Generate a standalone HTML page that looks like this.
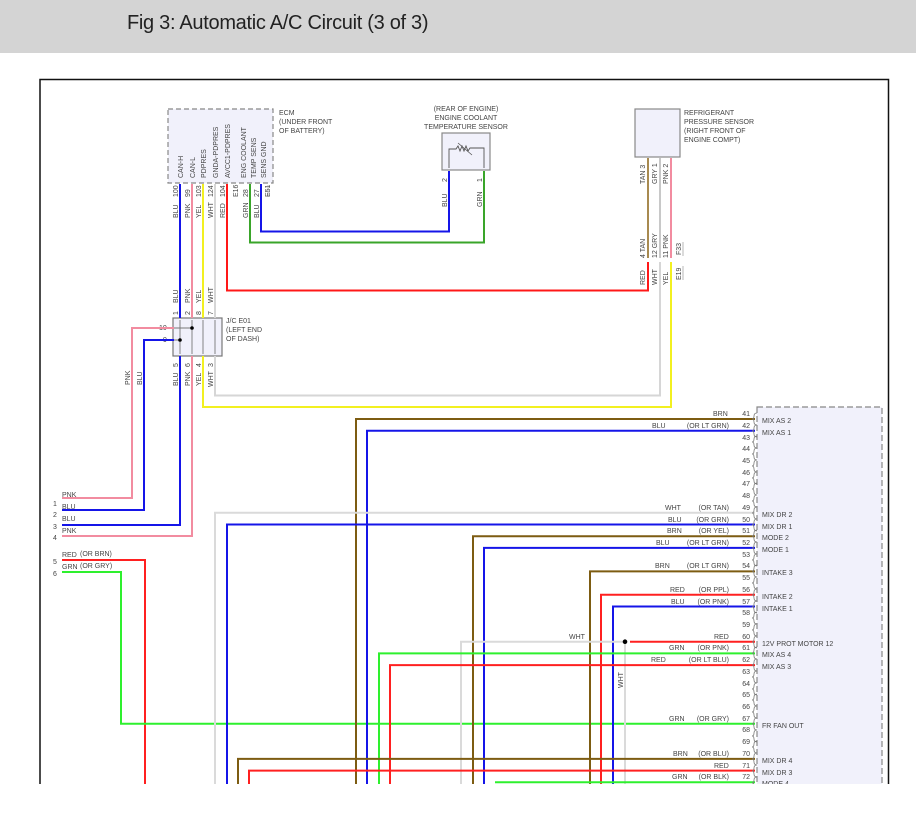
<!DOCTYPE html>
<html><head><meta charset="utf-8"><style>
html,body{margin:0;padding:0;background:#fff;width:916px;height:823px;overflow:hidden}
.hdr{position:absolute;left:0;top:0;width:916px;height:53px;background:#d4d4d4}
.hdr span{position:absolute;left:127px;top:12px;font-family:"Liberation Sans Narrow","Liberation Sans",sans-serif;font-size:20px;color:#222;letter-spacing:-0.3px}
svg{position:absolute;left:0;top:0}
text{font-family:"Liberation Sans",sans-serif;font-size:7px;fill:#444}
</style></head><body>
<div class="hdr"><span>Fig 3: Automatic A/C Circuit (3 of 3)</span></div>
<svg width="916" height="823" viewBox="0 0 916 823">
<defs><clipPath id="c"><rect x="0" y="0" width="916" height="784"/></clipPath></defs>
<g clip-path="url(#c)">
<path d="M40,800 V79.5 H888.5 V800" fill="none" stroke="#111" stroke-width="1.5"/>

<rect x="168" y="109" width="105" height="74" fill="#f1f1fb" stroke="#888" stroke-dasharray="5,3" stroke-width="1.2"/>
<text x="279" y="115">ECM</text><text x="279" y="124">(UNDER FRONT</text><text x="279" y="133">OF BATTERY)</text>
<g>
<text transform="translate(183,178) rotate(-90)">CAN-H</text>
<text transform="translate(195,178) rotate(-90)">CAN-L</text>
<text transform="translate(206,178) rotate(-90)">PDPRES</text>
<text transform="translate(218,178) rotate(-90)">GNDA-PDPRES</text>
<text transform="translate(230,178) rotate(-90)">AVCC1-PDPRES</text>
<text transform="translate(246,178) rotate(-90)">ENG COOLANT</text>
<text transform="translate(256,178) rotate(-90)">TEMP SENS</text>
<text transform="translate(266,178) rotate(-90)">SENS GND</text>
</g>
<g>
<text transform="translate(178,197) rotate(-90)">100</text>
<text transform="translate(190,197) rotate(-90)">99</text>
<text transform="translate(201,197) rotate(-90)">103</text>
<text transform="translate(213,197) rotate(-90)">124</text>
<text transform="translate(225,197) rotate(-90)">104</text>
<text transform="translate(238,197) rotate(-90)">E16</text>
<text transform="translate(248,197) rotate(-90)">28</text>
<text transform="translate(259,197) rotate(-90)">27</text>
<text transform="translate(270,197) rotate(-90)">E51</text>
<text transform="translate(178,218) rotate(-90)">BLU</text>
<text transform="translate(190,218) rotate(-90)">PNK</text>
<text transform="translate(201,218) rotate(-90)">YEL</text>
<text transform="translate(213,218) rotate(-90)">WHT</text>
<text transform="translate(225,218) rotate(-90)">RED</text>
<text transform="translate(248,218) rotate(-90)">GRN</text>
<text transform="translate(259,218) rotate(-90)">BLU</text>
</g>
<path d="M268,185 V197" stroke="#888" stroke-width="0.6"/>

<text x="466" y="111" text-anchor="middle">(REAR OF ENGINE)</text>
<text x="466" y="120" text-anchor="middle">ENGINE COOLANT</text>
<text x="466" y="129" text-anchor="middle">TEMPERATURE SENSOR</text>
<rect x="442" y="133" width="48" height="37" fill="#f1f1fb" stroke="#888" stroke-width="1.2"/>
<path d="M449,168 V149 H456 l2,-3 2,5 2,-5 2,5 2,-5 2,5 2,-3 H484 V168" fill="none" stroke="#555" stroke-width="0.9"/>
<path d="M458,143 L472,155" stroke="#555" stroke-width="0.8"/>
<text transform="translate(447,182) rotate(-90)">2</text>
<text transform="translate(482,182) rotate(-90)">1</text>
<text transform="translate(447,207) rotate(-90)">BLU</text>
<text transform="translate(482,207) rotate(-90)">GRN</text>

<rect x="635" y="109" width="45" height="48" fill="#f1f1fb" stroke="#888" stroke-width="1.2"/>
<text x="684" y="115">REFRIGERANT</text><text x="684" y="124">PRESSURE SENSOR</text><text x="684" y="133">(RIGHT FRONT OF</text><text x="684" y="142">ENGINE COMPT)</text>
<g>
<text transform="translate(645,184) rotate(-90)">TAN 3</text>
<text transform="translate(657,184) rotate(-90)">GRY 1</text>
<text transform="translate(668,184) rotate(-90)">PNK 2</text>
<text transform="translate(645,258) rotate(-90)">4  TAN</text>
<text transform="translate(657,258) rotate(-90)">12 GRY</text>
<text transform="translate(668,258) rotate(-90)">11 PNK</text>
<text transform="translate(681,255) rotate(-90)">F33</text>
<text transform="translate(645,285) rotate(-90)">RED</text>
<text transform="translate(657,285) rotate(-90)">WHT</text>
<text transform="translate(668,285) rotate(-90)">YEL</text>
<text transform="translate(681,280) rotate(-90)">E19</text>
</g>
<path d="M683,242 V256 M683,266 V280" stroke="#888" stroke-width="0.6"/>

<rect x="173" y="318" width="49" height="38" fill="#f1f1fb" stroke="#777" stroke-width="1.2"/>
<path d="M180,320 V354 M192,320 V354 M203,320 V354 M215,320 V354" stroke="#777" stroke-width="0.9"/>
<path d="M174,328 H192 M174,340 H180" stroke="#777" stroke-width="0.9"/>
<circle cx="192" cy="328" r="1.8" fill="#000"/><circle cx="180" cy="340" r="1.8" fill="#000"/>
<text x="226" y="323">J/C E01</text><text x="226" y="332">(LEFT END</text><text x="226" y="341">OF DASH)</text>
<text x="159" y="330">10</text><text x="163" y="342">9</text>
<g>
<text transform="translate(178,315) rotate(-90)">1</text>
<text transform="translate(190,315) rotate(-90)">2</text>
<text transform="translate(201,315) rotate(-90)">8</text>
<text transform="translate(213,315) rotate(-90)">7</text>
<text transform="translate(178,303) rotate(-90)">BLU</text>
<text transform="translate(190,303) rotate(-90)">PNK</text>
<text transform="translate(201,303) rotate(-90)">YEL</text>
<text transform="translate(213,303) rotate(-90)">WHT</text>
<text transform="translate(178,367) rotate(-90)">5</text>
<text transform="translate(190,367) rotate(-90)">6</text>
<text transform="translate(201,367) rotate(-90)">4</text>
<text transform="translate(213,367) rotate(-90)">3</text>
<text transform="translate(178,386) rotate(-90)">BLU</text>
<text transform="translate(190,386) rotate(-90)">PNK</text>
<text transform="translate(201,386) rotate(-90)">YEL</text>
<text transform="translate(213,387) rotate(-90)">WHT</text>
<text transform="translate(130,385) rotate(-90)">PNK</text>
<text transform="translate(142,385) rotate(-90)">BLU</text>
</g>

<g fill="none" stroke-width="2">
<path d="M180,184 V318" stroke="#1515e8"/>
<path d="M192,184 V318" stroke="#f28ca0"/>
<path d="M203,184 V318" stroke="#f2f020"/>
<path d="M215,184 V318" stroke="#d6d6d6"/>
<path d="M227,184 V290.5 H648 V262" stroke="#ff1818"/>
<path d="M250,184 V242.5 H484 V171" stroke="#3aa52a"/>
<path d="M261,184 V231.5 H449 V171" stroke="#1515e8"/>
<path d="M648,158 V258" stroke="#a88a50"/>
<path d="M660,158 V258" stroke="#c8c8c8"/>
<path d="M671,158 V258" stroke="#f28ca0"/>
<path d="M660,262 V395.5 H215 V356" stroke="#d6d6d6"/>
<path d="M671,262 V407 H203 V356" stroke="#f2f020"/>
<path d="M174,328 H132 V498 H62" stroke="#f28ca0"/>
<path d="M174,340 H144 V510 H62" stroke="#1515e8"/>
<path d="M180,356 V525 H62" stroke="#1515e8"/>
<path d="M192,356 V536 H62" stroke="#f28ca0"/>
<path d="M62,560 H145 V800" stroke="#ff2020"/>
<path d="M62,572 H121 V723.7 H755" stroke="#2ef02e"/>
</g>

<text x="53" y="506">1</text><text x="62" y="497">PNK</text>
<text x="53" y="517">2</text><text x="62" y="509">BLU</text>
<text x="53" y="529">3</text><text x="62" y="521">BLU</text>
<text x="53" y="540">4</text><text x="62" y="533">PNK</text>
<text x="53" y="564">5</text><text x="62" y="557">RED</text><text x="80" y="556">(OR BRN)</text>
<text x="53" y="576">6</text><text x="62" y="569">GRN</text><text x="80" y="568">(OR GRY)</text>

<rect x="757" y="407" width="125" height="400" fill="#f1f1fb" stroke="#888" stroke-dasharray="6,3" stroke-width="1.2"/>

<g fill="none" stroke-width="2">
<path d="M356,800 V419 H755" stroke="#7d5c12"/>
<path d="M367,800 V430.7 H755" stroke="#1515e8"/>
<path d="M215,800 V512.8 H755" stroke="#dadada"/>
<path d="M227,800 V524.5 H755" stroke="#1515e8"/>
<path d="M473,800 V536.2 H755" stroke="#7d5c12"/>
<path d="M484,800 V547.9 H755" stroke="#1515e8"/>
<path d="M590,800 V571.4 H755" stroke="#7d5c12"/>
<path d="M601,800 V594.8 H755" stroke="#ff2020"/>
<path d="M613,800 V606.5 H755" stroke="#1515e8"/>
<path d="M461,800 V641.7 H625 V800" stroke="#dadada"/>
<path d="M630,641.7 H755" stroke="#ff2020"/>
<path d="M379,800 V653.4 H755" stroke="#2ef02e"/>
<path d="M390,800 V665.1 H755" stroke="#ff2020"/>
<path d="M238,800 V758.9 H755" stroke="#7d5c12"/>
<path d="M249,800 V770.6 H755" stroke="#ff2020"/>
<path d="M495,782.3 H755" stroke="#2ef02e"/>
</g>
<circle cx="625" cy="641.7" r="2.3" fill="#000"/>
<text x="569" y="639">WHT</text>
<text transform="translate(623,688) rotate(-90)">WHT</text>

<g>
<text x="713" y="416">BRN</text>
<text x="652" y="428">BLU</text><text x="729" y="428" text-anchor="end">(OR LT GRN)</text>
<text x="665" y="510">WHT</text><text x="729" y="510" text-anchor="end">(OR TAN)</text>
<text x="668" y="522">BLU</text><text x="729" y="522" text-anchor="end">(OR GRN)</text>
<text x="667" y="533">BRN</text><text x="729" y="533" text-anchor="end">(OR YEL)</text>
<text x="656" y="545">BLU</text><text x="729" y="545" text-anchor="end">(OR LT GRN)</text>
<text x="655" y="568">BRN</text><text x="729" y="568" text-anchor="end">(OR LT GRN)</text>
<text x="670" y="592">RED</text><text x="729" y="592" text-anchor="end">(OR PPL)</text>
<text x="671" y="604">BLU</text><text x="729" y="604" text-anchor="end">(OR PNK)</text>
<text x="714" y="639">RED</text>
<text x="669" y="650">GRN</text><text x="729" y="650" text-anchor="end">(OR PNK)</text>
<text x="651" y="662">RED</text><text x="729" y="662" text-anchor="end">(OR LT BLU)</text>
<text x="669" y="721">GRN</text><text x="729" y="721" text-anchor="end">(OR GRY)</text>
<text x="673" y="756">BRN</text><text x="729" y="756" text-anchor="end">(OR BLU)</text>
<text x="714" y="768">RED</text>
<text x="672" y="779">GRN</text><text x="729" y="779" text-anchor="end">(OR BLK)</text>
</g>

<g text-anchor="end">
<text x="750" y="416">41</text><text x="750" y="428">42</text><text x="750" y="440">43</text><text x="750" y="451">44</text>
<text x="750" y="463">45</text><text x="750" y="475">46</text><text x="750" y="486">47</text><text x="750" y="498">48</text>
<text x="750" y="510">49</text><text x="750" y="522">50</text><text x="750" y="533">51</text><text x="750" y="545">52</text>
<text x="750" y="557">53</text><text x="750" y="568">54</text><text x="750" y="580">55</text><text x="750" y="592">56</text>
<text x="750" y="604">57</text><text x="750" y="615">58</text><text x="750" y="627">59</text><text x="750" y="639">60</text>
<text x="750" y="650">61</text><text x="750" y="662">62</text><text x="750" y="674">63</text><text x="750" y="686">64</text>
<text x="750" y="697">65</text><text x="750" y="709">66</text><text x="750" y="721">67</text><text x="750" y="732">68</text>
<text x="750" y="744">69</text><text x="750" y="756">70</text><text x="750" y="768">71</text><text x="750" y="779">72</text>
</g>
<g fill="none" stroke="#777" stroke-width="0.8">
<path d="M757,413 q-3,0 -3,3 q0,3 -2,3 q2,0 2,3 q0,3 3,3 M757,425 q-3,0 -3,3 q0,3 -2,3 q2,0 2,3 q0,3 3,3 M757,436 q-3,0 -3,3 q0,3 -2,3 q2,0 2,3 q0,3 3,3 M757,448 q-3,0 -3,3 q0,3 -2,3 q2,0 2,3 q0,3 3,3 M757,460 q-3,0 -3,3 q0,3 -2,3 q2,0 2,3 q0,3 3,3 M757,472 q-3,0 -3,3 q0,3 -2,3 q2,0 2,3 q0,3 3,3 M757,483 q-3,0 -3,3 q0,3 -2,3 q2,0 2,3 q0,3 3,3 M757,495 q-3,0 -3,3 q0,3 -2,3 q2,0 2,3 q0,3 3,3"/>
<path d="M757,507 q-3,0 -3,3 q0,3 -2,3 q2,0 2,3 q0,3 3,3 M757,519 q-3,0 -3,3 q0,3 -2,3 q2,0 2,3 q0,3 3,3 M757,530 q-3,0 -3,3 q0,3 -2,3 q2,0 2,3 q0,3 3,3 M757,542 q-3,0 -3,3 q0,3 -2,3 q2,0 2,3 q0,3 3,3 M757,554 q-3,0 -3,3 q0,3 -2,3 q2,0 2,3 q0,3 3,3 M757,565 q-3,0 -3,3 q0,3 -2,3 q2,0 2,3 q0,3 3,3 M757,577 q-3,0 -3,3 q0,3 -2,3 q2,0 2,3 q0,3 3,3 M757,589 q-3,0 -3,3 q0,3 -2,3 q2,0 2,3 q0,3 3,3"/>
<path d="M757,601 q-3,0 -3,3 q0,3 -2,3 q2,0 2,3 q0,3 3,3 M757,612 q-3,0 -3,3 q0,3 -2,3 q2,0 2,3 q0,3 3,3 M757,624 q-3,0 -3,3 q0,3 -2,3 q2,0 2,3 q0,3 3,3 M757,636 q-3,0 -3,3 q0,3 -2,3 q2,0 2,3 q0,3 3,3 M757,647 q-3,0 -3,3 q0,3 -2,3 q2,0 2,3 q0,3 3,3 M757,659 q-3,0 -3,3 q0,3 -2,3 q2,0 2,3 q0,3 3,3 M757,671 q-3,0 -3,3 q0,3 -2,3 q2,0 2,3 q0,3 3,3 M757,683 q-3,0 -3,3 q0,3 -2,3 q2,0 2,3 q0,3 3,3"/>
<path d="M757,694 q-3,0 -3,3 q0,3 -2,3 q2,0 2,3 q0,3 3,3 M757,706 q-3,0 -3,3 q0,3 -2,3 q2,0 2,3 q0,3 3,3 M757,718 q-3,0 -3,3 q0,3 -2,3 q2,0 2,3 q0,3 3,3 M757,730 q-3,0 -3,3 q0,3 -2,3 q2,0 2,3 q0,3 3,3 M757,741 q-3,0 -3,3 q0,3 -2,3 q2,0 2,3 q0,3 3,3 M757,753 q-3,0 -3,3 q0,3 -2,3 q2,0 2,3 q0,3 3,3 M757,765 q-3,0 -3,3 q0,3 -2,3 q2,0 2,3 q0,3 3,3 M757,777 q-3,0 -3,3 q0,3 -2,3 q2,0 2,3 q0,3 3,3"/>
</g>
<g>
<text x="762" y="423">MIX AS 2</text><text x="762" y="435">MIX AS 1</text>
<text x="762" y="517">MIX DR 2</text><text x="762" y="529">MIX DR 1</text>
<text x="762" y="540">MODE 2</text><text x="762" y="552">MODE 1</text>
<text x="762" y="575">INTAKE 3</text><text x="762" y="599">INTAKE 2</text>
<text x="762" y="611">INTAKE 1</text><text x="762" y="646">12V PROT MOTOR 12</text>
<text x="762" y="657">MIX AS 4</text><text x="762" y="669">MIX AS 3</text>
<text x="762" y="728">FR FAN OUT</text><text x="762" y="763">MIX DR 4</text>
<text x="762" y="775">MIX DR 3</text><text x="762" y="786">MODE 4</text>
</g>
</g>
</svg>
</body></html>
